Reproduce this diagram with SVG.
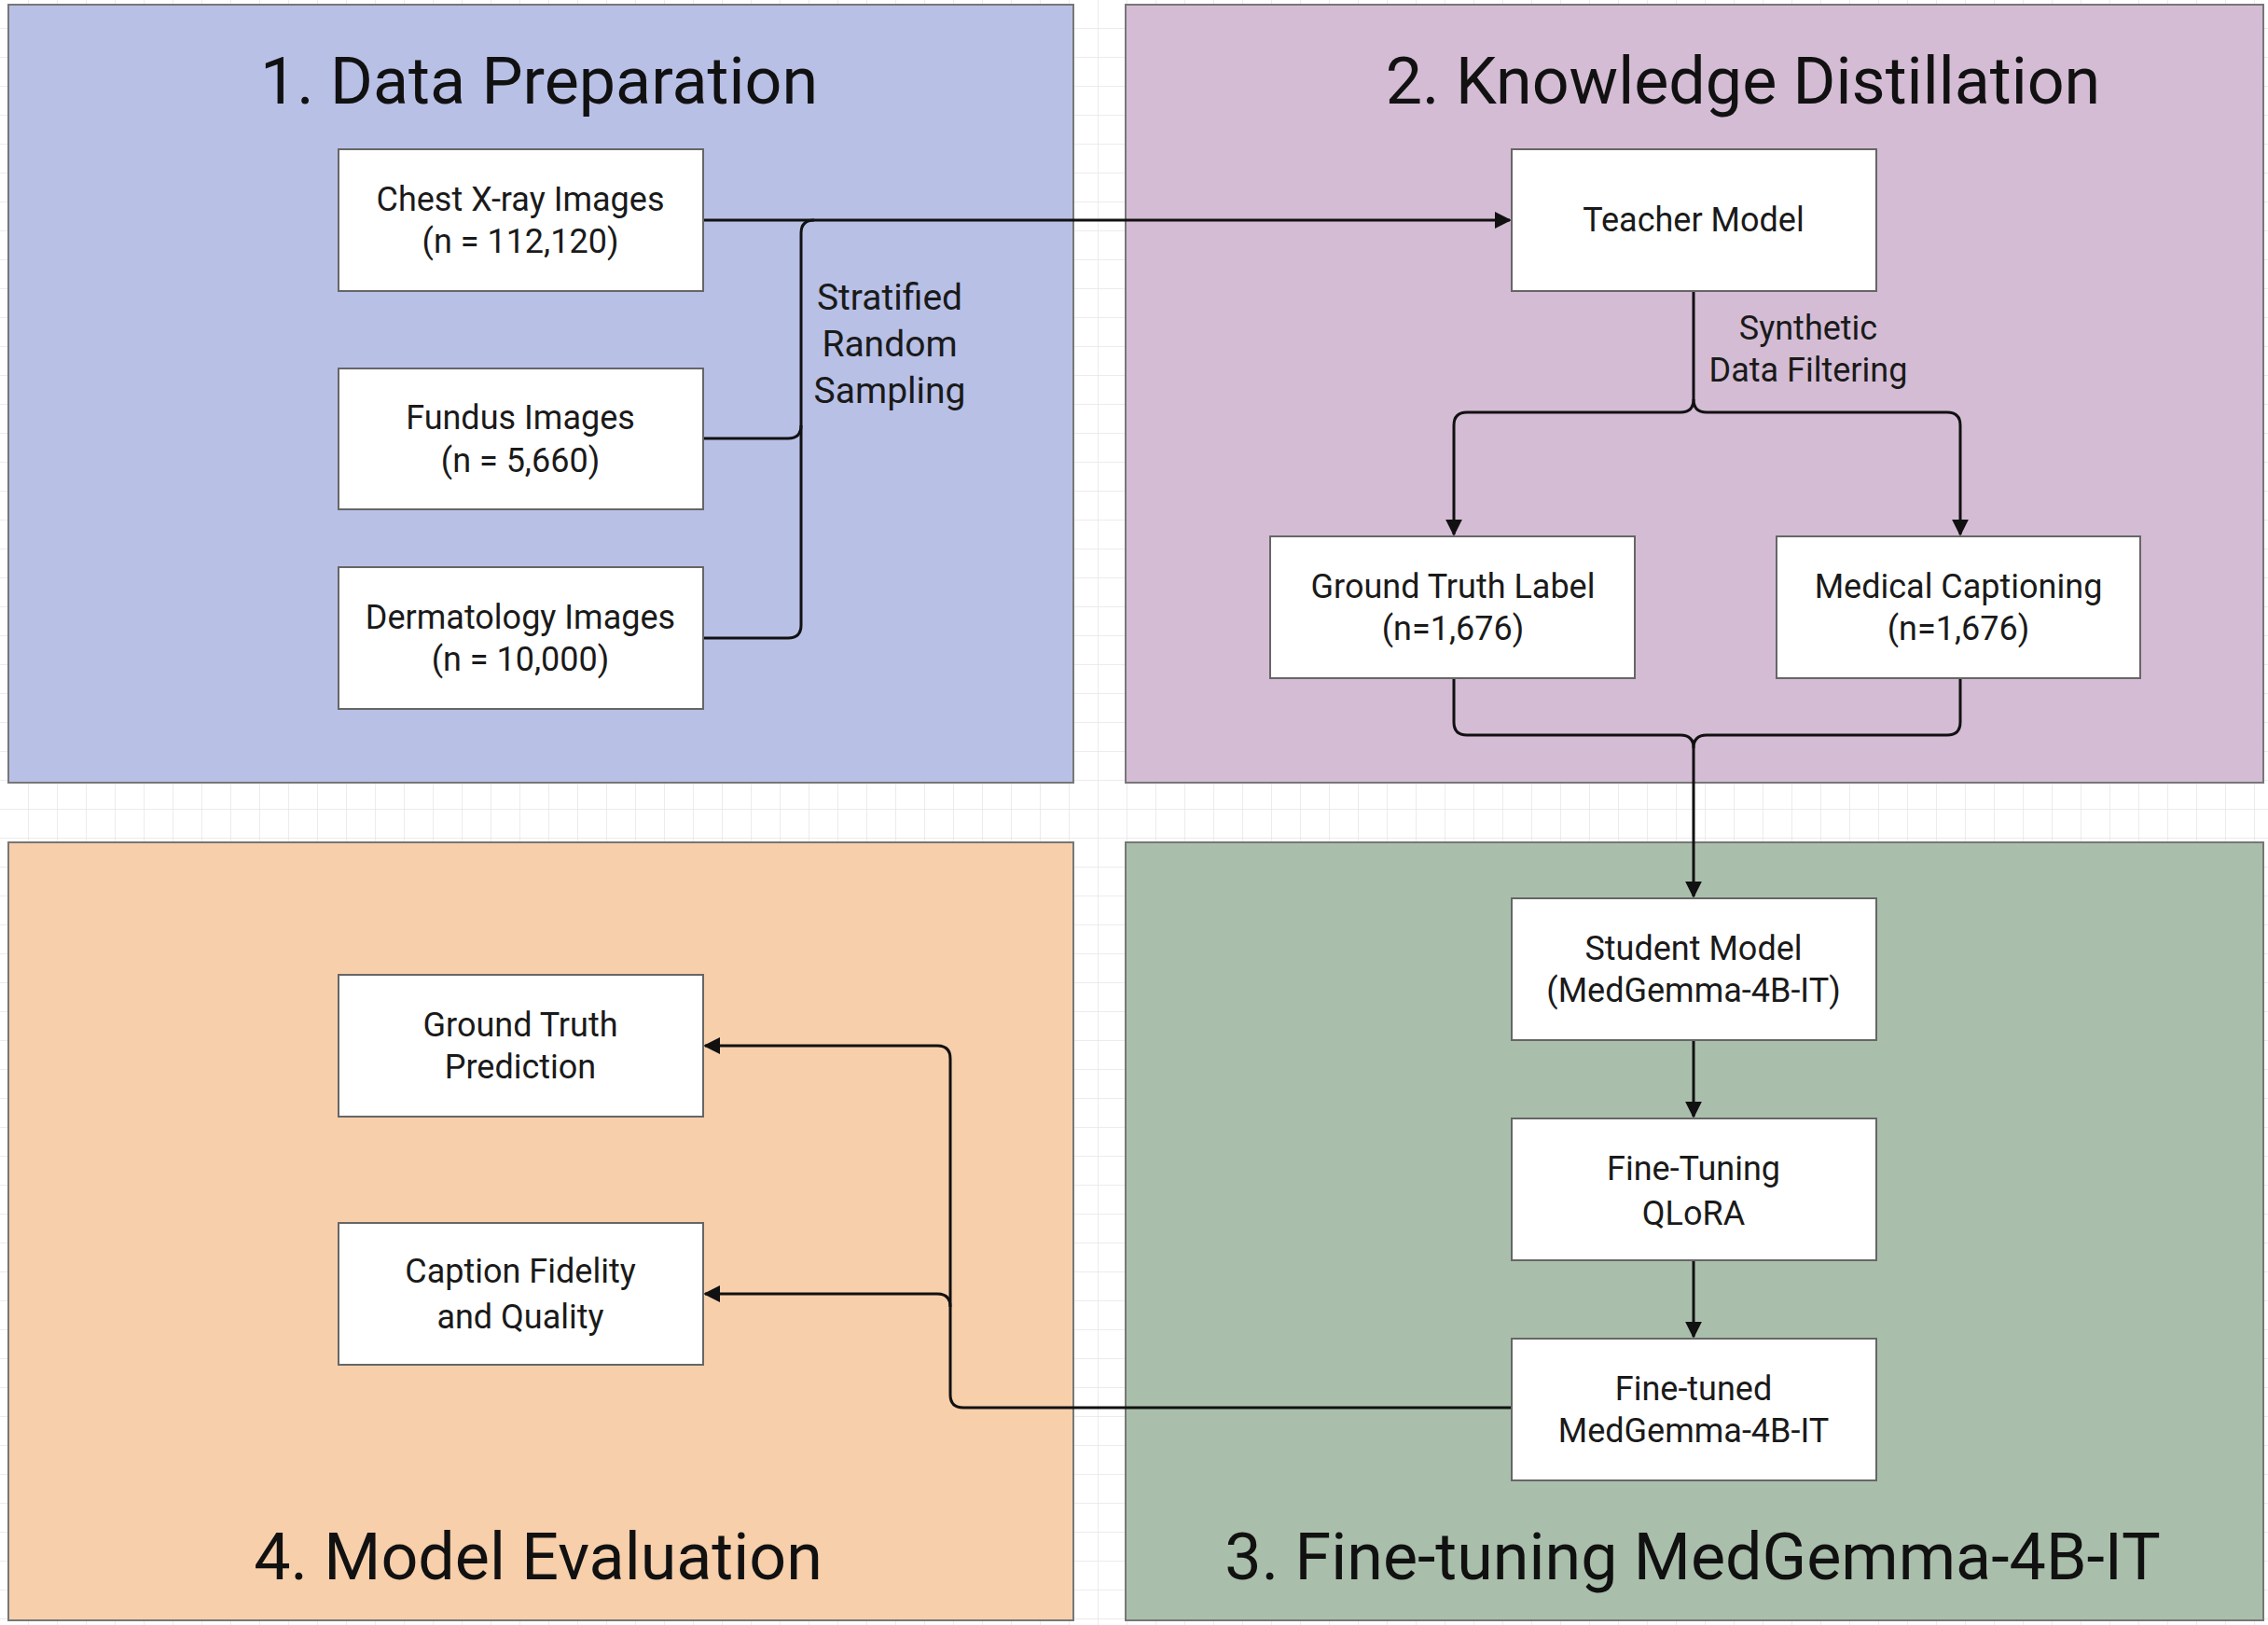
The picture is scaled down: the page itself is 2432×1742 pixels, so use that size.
<svg xmlns="http://www.w3.org/2000/svg" width="2432" height="1742" viewBox="0 0 2432 1742">
<defs>
<pattern id="grid" width="31" height="31" patternUnits="userSpaceOnUse"><path d="M31 0V31H0" fill="none" stroke="#e6e6e6" stroke-width="1.5"/></pattern>
<marker id="ah" viewBox="0 0 10 10" refX="9" refY="5" markerWidth="6" markerHeight="6" markerUnits="strokeWidth" orient="auto"><path d="M0,0L10,5L0,10z" fill="#111"/></marker>
<style>
.panel{stroke:#777;stroke-width:2}
.box{fill:#fff;stroke:#666;stroke-width:2}
.t{font-family:Roboto,"Liberation Sans",sans-serif;font-size:36px;fill:#1a1a1a;text-anchor:middle}
.title{font-family:Roboto,"Liberation Sans",sans-serif;font-size:70px;fill:#111;text-anchor:middle}
.lbl{font-family:Roboto,"Liberation Sans",sans-serif;font-size:39px;fill:#1a1a1a;text-anchor:middle}
.c{fill:none;stroke:#111;stroke-width:3}
</style>
</defs>
<rect width="2432" height="1742" fill="#fff"/>
<rect width="2432" height="1742" fill="url(#grid)"/>
<rect class="panel" x="9" y="5" width="1142" height="834" fill="#b8c0e6"/>
<rect class="panel" x="1207" y="5" width="1220" height="834" fill="#d4bcd4"/>
<rect class="panel" x="9" y="903" width="1142" height="834" fill="#f7cfab"/>
<rect class="panel" x="1207" y="903" width="1220" height="834" fill="#a9bfab"/>
<text class="title" x="578" y="111">1. Data Preparation</text>
<text class="title" x="1869" y="111">2. Knowledge Distillation</text>
<text class="title" x="577" y="1693">4. Model Evaluation</text>
<text class="title" x="1815" y="1693">3. Fine-tuning MedGemma-4B-IT</text>
<g id="connectors">
<path class="c" d="M754 236H1619" marker-end="url(#ah)"/>
<path class="c" d="M754 470H845Q859 470 859 456V250Q859 236 873 236"/>
<path class="c" d="M754 684H845Q859 684 859 670V456"/>
<text class="lbl" x="954" y="332">Stratified</text>
<text class="lbl" x="954" y="382">Random</text>
<text class="lbl" x="954" y="432">Sampling</text>
<path class="c" d="M1816 312V428Q1816 442 1802 442H1573Q1559 442 1559 456V573" marker-end="url(#ah)"/>
<path class="c" d="M1816 428Q1816 442 1830 442H2088Q2102 442 2102 456V573" marker-end="url(#ah)"/>
<text class="t" x="1939" y="364">Synthetic</text>
<text class="t" x="1939" y="409">Data Filtering</text>
<path class="c" d="M1559 727V774Q1559 788 1573 788H1802Q1816 788 1816 802V961" marker-end="url(#ah)"/>
<path class="c" d="M2102 727V774Q2102 788 2088 788H1830Q1816 788 1816 802"/>
<path class="c" d="M1816 1115V1197" marker-end="url(#ah)"/>
<path class="c" d="M1816 1351V1433" marker-end="url(#ah)"/>
<path class="c" d="M1621 1509H1033Q1019 1509 1019 1495V1135Q1019 1121 1005 1121H756" marker-end="url(#ah)"/>
<path class="c" d="M1019 1401Q1019 1387 1005 1387H756" marker-end="url(#ah)"/>
</g>
<g id="chest"><rect class="box" x="363" y="160" width="391" height="152"/><text class="t" x="558" y="226">Chest X-ray Images</text><text class="t" x="558" y="271">(n = 112,120)</text></g>
<g id="fundus"><rect class="box" x="363" y="395" width="391" height="151"/><text class="t" x="558" y="460">Fundus Images</text><text class="t" x="558" y="506">(n = 5,660)</text></g>
<g id="derm"><rect class="box" x="363" y="608" width="391" height="152"/><text class="t" x="558" y="674">Dermatology Images</text><text class="t" x="558" y="719">(n = 10,000)</text></g>
<g id="teacher"><rect class="box" x="1621" y="160" width="391" height="152"/><text class="t" x="1816" y="248">Teacher Model</text></g>
<g id="gtlabel"><rect class="box" x="1362" y="575" width="391" height="152"/><text class="t" x="1558" y="641">Ground Truth Label</text><text class="t" x="1558" y="686">(n=1,676)</text></g>
<g id="medcap"><rect class="box" x="1905" y="575" width="390" height="152"/><text class="t" x="2100" y="641">Medical Captioning</text><text class="t" x="2100" y="686">(n=1,676)</text></g>
<g id="student"><rect class="box" x="1621" y="963" width="391" height="152"/><text class="t" x="1816" y="1029">Student Model</text><text class="t" x="1816" y="1074">(MedGemma-4B-IT)</text></g>
<g id="finetuning"><rect class="box" x="1621" y="1199" width="391" height="152"/><text class="t" x="1816" y="1265">Fine-Tuning</text><text class="t" x="1816" y="1313">QLoRA</text></g>
<g id="finetuned"><rect class="box" x="1621" y="1435" width="391" height="152"/><text class="t" x="1816" y="1501">Fine-tuned</text><text class="t" x="1816" y="1546">MedGemma-4B-IT</text></g>
<g id="gtpred"><rect class="box" x="363" y="1045" width="391" height="152"/><text class="t" x="558" y="1111">Ground Truth</text><text class="t" x="558" y="1156">Prediction</text></g>
<g id="caption"><rect class="box" x="363" y="1311" width="391" height="152"/><text class="t" x="558" y="1375">Caption Fidelity</text><text class="t" x="558" y="1424">and Quality</text></g>
</svg>
